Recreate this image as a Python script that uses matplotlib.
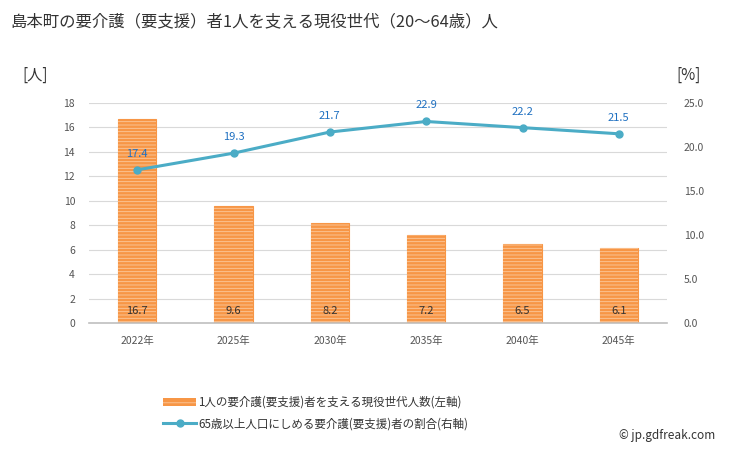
import matplotlib
matplotlib.use("Agg")
import matplotlib.pyplot as plt
from matplotlib.patches import Patch
from matplotlib.lines import Line2D

plt.rcParams['font.family'] = ['Noto Sans CJK JP', 'DejaVu Sans']
plt.rcParams['hatch.linewidth'] = 0.6

categories = ["2022年", "2025年", "2030年", "2035年", "2040年", "2045年"]
support_ratio = [16.7, 9.6, 8.2, 7.2, 6.5, 6.1]
elderly_share = [17.4, 19.3, 21.7, 22.9, 22.2, 21.5]
left_ticks = [0, 2, 4, 6, 8, 10, 12, 14, 16, 18]
right_ticks = [0.0, 5.0, 10.0, 15.0, 20.0, 25.0]

title = "島本町の要介護（要支援）者1人を支える現役世代（20～64歳）人"
bar_label = "1人の要介護(要支援)者を支える現役世代人数(左軸)"
line_label = "65歳以上人口にしめる要介護(要支援)者の割合(右軸)"

bar_color = "#f79646"
stripe_color = "#fbc99d"
line_color = "#4bacc6"
tick_color = "#555555"

fig = plt.figure(figsize=(7.29, 4.5), dpi=100)
ax = fig.add_axes([89/729, 1-323/450, (667-89)/729, 220/450])
ax2 = ax.twinx()

x = list(range(len(categories)))
ax.bar(x, support_ratio, width=0.4, color=bar_color, edgecolor=bar_color, linewidth=0.8, zorder=2)
ax.bar(x, support_ratio, width=0.4, facecolor="none", edgecolor=stripe_color, hatch="-----", linewidth=0, zorder=3)
for xi, v in zip(x, support_ratio):
    ax.text(xi, 1.0, f"{v}", ha="center", va="center", fontsize=8, color="#333333", zorder=5)

ax.set_xlim(-0.5, len(categories) - 0.5)
ax.set_ylim(0, 18)
ax.set_yticks(left_ticks)
ax.set_yticklabels([str(t) for t in left_ticks], fontsize=7.5, color=tick_color)
ax.set_xticks(x)
ax.set_xticklabels(categories, fontsize=7.5, color=tick_color)
ax.tick_params(axis="both", length=0)
ax.tick_params(axis="x", pad=9)
ax.tick_params(axis="y", pad=10)
ax.grid(axis="y", color="#d9d9d9", linewidth=0.8, zorder=0)
ax.set_axisbelow(True)
for s in ["top", "right", "left"]:
    ax.spines[s].set_visible(False)
ax.spines["bottom"].set_color("#bfbfbf")
ax.spines["bottom"].set_linewidth(1.2)

ax2.plot(x, elderly_share, color=line_color, linewidth=2.2, marker="o", markersize=5, zorder=4)
for xi, v in zip(x, elderly_share):
    ax2.annotate(f"{v}", (xi, v), xytext=(0, 8), textcoords="offset points",
                 ha="center", va="bottom", fontsize=8, color="#1f70c1")
ax2.set_ylim(0, 25)
ax2.set_yticks(right_ticks)
ax2.set_yticklabels([f"{t:.1f}" for t in right_ticks], fontsize=7.5, color=tick_color)
ax2.tick_params(axis="y", length=0, pad=12)
for s in ["top", "right", "left", "bottom"]:
    ax2.spines[s].set_visible(False)
ax.set_zorder(ax2.get_zorder() - 1)
ax.patch.set_visible(False)

fig.text(10/729, 1-22/450, title, fontsize=11.8, color="#333333", va="center", ha="left")
fig.text(22/729, 1-75/450, "[人]", fontsize=11, color="#333333", va="center", ha="left")
fig.text(676/729, 1-75/450, "[%]", fontsize=11, color="#333333", va="center", ha="left")

handles = [
    Patch(facecolor=bar_color, edgecolor=stripe_color, hatch="---", linewidth=0),
    Line2D([0], [0], color=line_color, linewidth=2.2, marker="o", markersize=5),
]
fig.legend(handles, [bar_label, line_label], loc="center left",
           bbox_to_anchor=(153/729, 1-413/450), frameon=False, fontsize=8.3,
           handlelength=2.8, labelspacing=0.75, handletextpad=0.2, labelcolor="#333333")

fig.text(715/729, 1-436/450, "© jp.gdfreak.com", fontsize=8.5, color="#333333", ha="right", va="center")

fig.savefig("out.png", dpi=100)
